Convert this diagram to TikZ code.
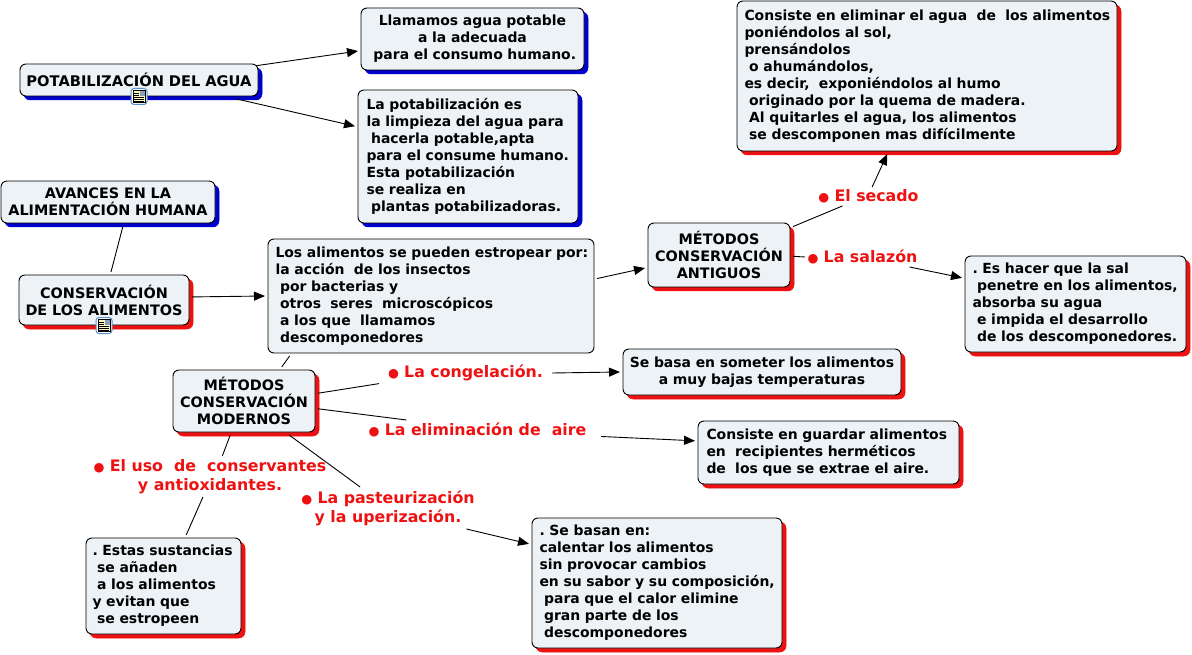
\documentclass[tikz,border=0pt]{standalone}
\usepackage{fontspec}
\setmainfont{DejaVu Sans}
\usetikzlibrary{arrows.meta,shadows,shapes.misc}
\definecolor{boxfill}{HTML}{ECF2F5}
\definecolor{mapred}{HTML}{EE1111}
\definecolor{mapblue}{HTML}{0000CC}
\definecolor{iconblue}{HTML}{5A90D0}
\definecolor{iconpage}{HTML}{FFF8C0}
\definecolor{iconpic}{HTML}{8AA0B8}
\tikzset{
  mapbox/.style={draw=black,line width=.9pt,fill=boxfill,rounded corners=6pt,inner sep=0pt,outer sep=3pt,
    font=\frenchspacing\fontsize{13.95}{17}\selectfont\bfseries,text=black},
  capsfont/.style={font=\frenchspacing\fontsize{14.4}{17}\selectfont\bfseries},
  longlines/.style={execute at begin node={\rightskip=-60pt plus 1fil\relax}},
  redbox/.style={mapbox,copy shadow={shadow xshift=4pt,shadow yshift=-4pt,fill=mapred,draw=mapred,line width=.5pt}},
  bluebox/.style={mapbox,copy shadow={shadow xshift=4pt,shadow yshift=-4pt,fill=mapblue,draw=mapblue,line width=.5pt}},
  plainbox/.style={mapbox},
  redcaps/.style={redbox,capsfont},
  bluecaps/.style={bluebox,capsfont},
  maplabel/.style={inner sep=0pt,outer sep=0pt,text=mapred,align=center,
    font=\frenchspacing\fontsize{15.8}{19}\selectfont\bfseries},
  link/.style={draw=black,line width=.9pt},
  arrowlink/.style={link,-{Triangle[length=11pt,width=9pt]}},
  iconframe/.style={draw=iconblue,line width=1pt,fill=white,rounded corners=3pt,minimum size=16pt,inner sep=0pt},
}
% name x0 y0 x1 y1 style align padding text
\newcommand\mapnode[9]{%
  \node[#6,align=#7,text width={(#4-#2-2*#8)*1pt},minimum width={(#4-#2)*1pt},minimum height={(#5-#3)*1pt}]
    (#1) at ({(#2+#4)/2},{(#3+#5)/2}) {#9};}
\newcommand\maplab[6]{%
  \node[maplabel,minimum width={(#4-#2)*1pt},minimum height={(#5-#3)*1pt}]
    (#1) at ({(#2+#4)/2},{(#3+#5)/2}) {#6};}
\newcommand\docicon[3]{%
  \node[iconframe] (#1) at (#2,#3) {};
  \fill[iconpage,draw=black,line width=.4pt] ({#2-6},{#3-6}) rectangle ({#2+6},{#3+6});
  \fill[iconpic] ({#2+.5},{#3-5.5}) rectangle ({#2+5.5},{#3-.5});
  \draw[black,line width=.5pt] ({#2-5},{#3-3.5}) -- ({#2-.5},{#3-3.5}) ({#2-5},{#3-1.2}) -- ({#2-.5},{#3-1.2})
    ({#2-5},{#3+1}) -- ({#2+5},{#3+1}) ({#2-5},{#3+3}) -- ({#2+5},{#3+3}) ({#2-5},{#3+5}) -- ({#2+5},{#3+5});}
\newcommand\lsp{\hspace*{.33em}}
\newcommand\blt{{\fontsize{12.5}{13}\selectfont ●}\hspace{.33em}}
\begin{document}
\begin{tikzpicture}[x=1pt,y=-1pt]
\useasboundingbox (0,0) rectangle (1192,655);

\mapnode{potab}{20}{64}{258}{96}{bluecaps,font=\frenchspacing\fontsize{14.65}{17}\selectfont\bfseries}{center}{2}{POTABILIZACIÓN DEL AGUA}
\mapnode{llam}{361}{8}{584}{70}{bluebox}{center}{3}{Llamamos agua potable\\a la adecuada\\\lsp para el consumo humano.}
\mapnode{lapot}{358}{90}{578}{223}{bluebox}{left,longlines}{8.5}{La potabilización es\\la limpieza del agua para\\\lsp hacerla potable,apta\\para el consume humano.\\Esta potabilización\\se realiza en\\\lsp plantas potabilizadoras.}
\mapnode{avan}{1}{181}{215}{223}{bluecaps}{center}{2}{AVANCES EN LA\\ALIMENTACIÓN HUMANA}
\mapnode{cons}{19}{275}{189}{325}{redcaps}{center}{2}{CONSERVACIÓN\\DE LOS ALIMENTOS}
\mapnode{alim}{268}{239}{594}{353}{plainbox}{left,longlines}{7.5}{Los alimentos se pueden estropear por:\\la acción\ \ de los insectos\\\lsp por bacterias y\\\lsp otros\ \ seres\ \ microscópicos\\\lsp a los que\ \ llamamos\\\lsp descomponedores}
\mapnode{anti}{648}{223}{790}{287}{redcaps}{center}{2}{MÉTODOS\\CONSERVACIÓN\\ANTIGUOS}
\mapnode{seca}{737}{1}{1117}{151}{redbox}{left,longlines}{7.5}{Consiste en eliminar el agua\ \ de\ \ los alimentos\\poniéndolos al sol,\\prensándolos\\\lsp o ahumándolos,\\es decir,\ \ exponiéndolos al humo\\\lsp originado por la quema de madera.\\\lsp Al quitarles el agua, los alimentos\\\lsp se descomponen mas difícilmente}
\mapnode{sal}{965}{256}{1186}{352}{redbox}{left,longlines}{7.5}{. Es hacer que la sal\\\lsp penetre en los alimentos,\\absorba su agua\\\lsp e impida el desarrollo\\\lsp de los descomponedores.}
\mapnode{bajas}{623}{349}{901}{395}{redbox}{center}{3}{Se basa en someter los alimentos\\a muy bajas temperaturas}
\mapnode{herm}{698}{421}{959}{484}{redbox}{left,longlines}{8.5}{Consiste en guardar alimentos\\en\ \ recipientes herméticos\\de\ \ los que se extrae el aire.}
\mapnode{mod}{173}{370}{315}{432}{redcaps}{center}{2}{MÉTODOS\\CONSERVACIÓN\\MODERNOS}
\mapnode{estas}{86}{538}{241}{634}{redbox}{left,longlines}{6.5}{. Estas sustancias\\\lsp se añaden\\\lsp a los alimentos\\y evitan que\\\lsp se estropeen}
\mapnode{basan}{532}{518}{782}{648}{redbox}{left,longlines}{7.5}{. Se basan en:\\calentar los alimentos\\sin provocar cambios\\en su sabor y su composición,\\\lsp para que el calor elimine\\\lsp gran parte de los\\\lsp descomponedores}

\maplab{lsec}{815}{187}{922}{206}{\blt El secado}
\maplab{lsal}{805}{247}{920}{267}{\blt La salazón}
\maplab{lcon}{379}{362}{552}{384}{\blt La congelación.}
\maplab{leli}{354}{420}{601}{440}{\blt La eliminación de\ \ aire}
\maplab{luso}{90}{456}{330}{497}{\blt El uso\ \ de\ \ conservantes\\y antioxidantes.}
\maplab{lpas}{297}{487}{479}{529}{\blt La pasteurización\\y la uperización.}

\draw[arrowlink,shorten <=-5pt] (potab.7.3) -- (llam.186);
\draw[arrowlink] (potab.-11.2) -- (lapot.165.4);
\draw[link] (avan.-58) -- (cons.76);
\draw[arrowlink] (cons.2) -- (alim.180);
\draw[arrowlink] (alim.6.2) -- (anti.190);
\draw[link] (alim.203.3) -- (mod.42.6);
\draw[link] (anti.21.4) -- (lsec.200.4);
\draw[arrowlink] (lsec.69.8) -- (seca.243.4);
\draw[link] (anti.-1.5) -- (lsal.180);
\draw[arrowlink] (lsal.-12.4) -- (sal.167.1);
\draw[link] (mod.6.8) -- (lcon.187.8);
\draw[arrowlink] (lcon.0) -- (bajas.180);
\draw[link] (mod.-6.8) -- (leli.172.6);
\draw[arrowlink] (leli.-3.7) -- (herm.175.9);
\draw[link] (mod.248.2) -- (luso.59.7);
\draw[link] (luso.251.1) -- (estas.66.2);
\draw[link] (mod.-37.4) -- (lpas.143.1);
\draw[arrowlink] (lpas.-15.6) -- (basan.163.9);

\docicon{icona}{139}{96.5}
\docicon{iconb}{104}{325.5}
\end{tikzpicture}
\end{document}
